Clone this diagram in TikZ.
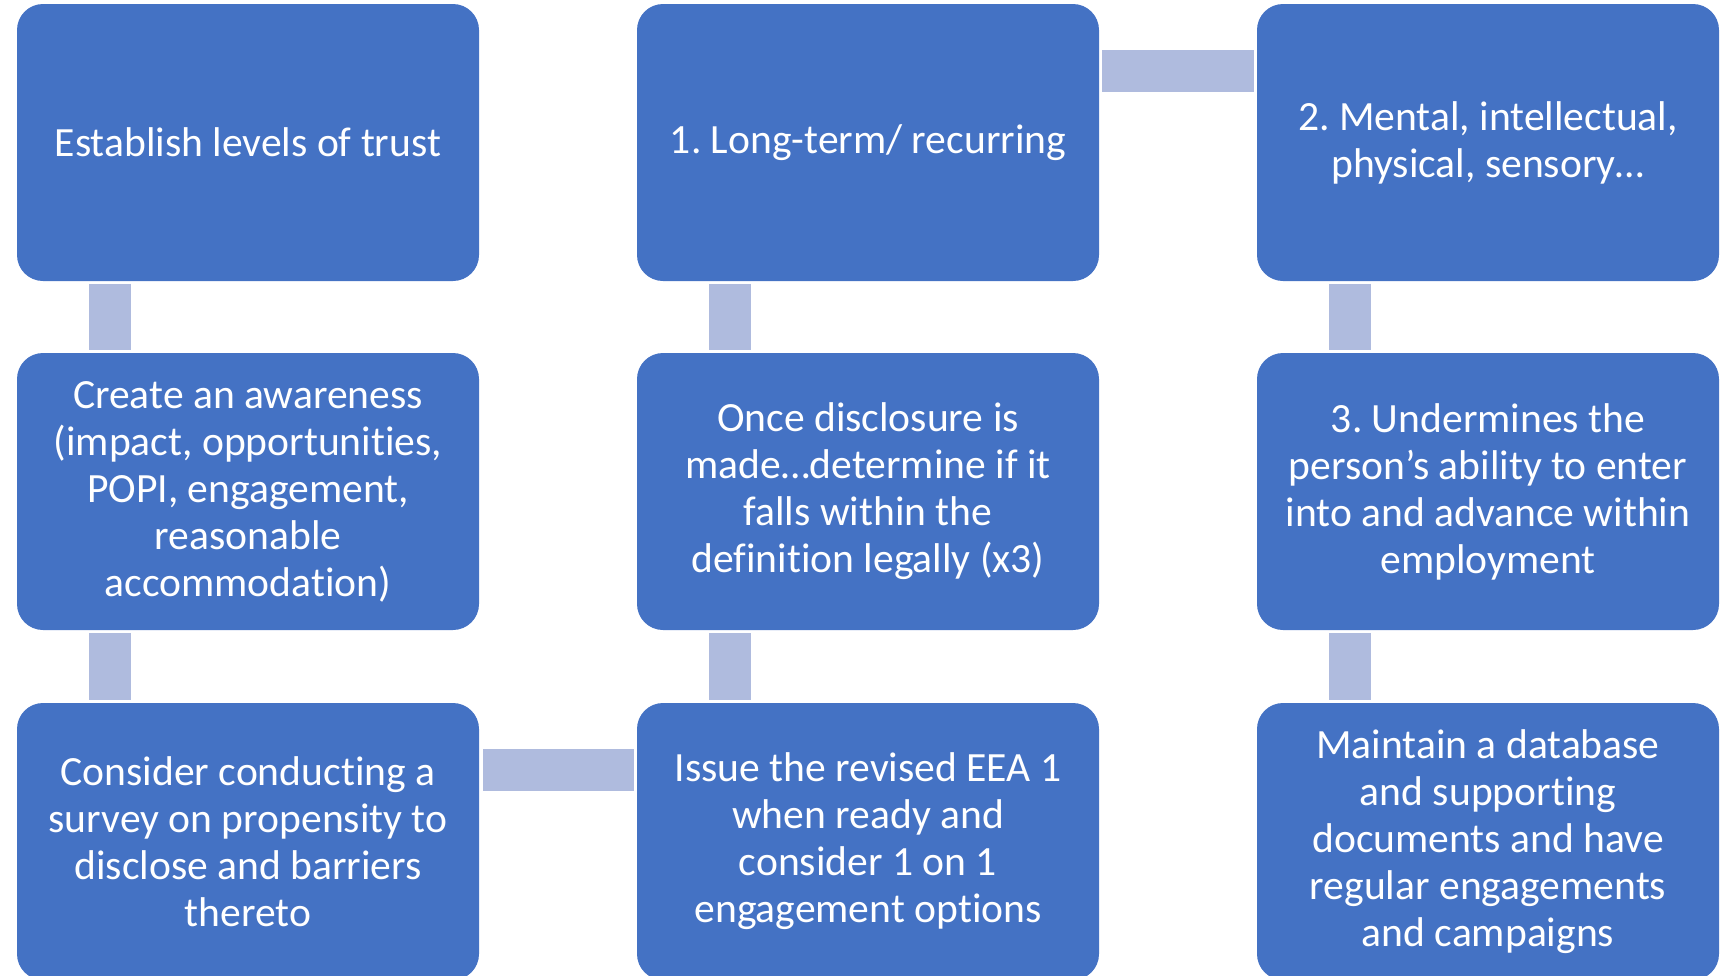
\documentclass[tikz,border=0pt]{standalone}
\usepackage{fontspec}
\setmainfont{Carlito}[Ligatures=NoCommon]
\usepackage{xcolor}
\usepackage{tikz}
\usetikzlibrary{calc}
\definecolor{stageblue}{RGB}{68,114,196}
\definecolor{linkblue}{RGB}{175,187,222}
\frenchspacing

\begin{document}
\begin{tikzpicture}[x=0.5pt, y=-0.5pt,
	stage/.style={fill=stageblue, rounded corners=13pt, minimum width=231pt, minimum height=138.5pt,
		inner sep=0pt, text=white, align=center, font=\fontsize{20.8pt}{23.5pt}\selectfont},
	link/.style={draw=linkblue, line width=21pt, shorten <=1.25pt, shorten >=1.25pt}]
	\useasboundingbox (0,0) rectangle (1729,975);
	\clip (0,0) rectangle (1729,975);
	
	% Top row
	\node[stage] (trust) at (248,142.5) {Establish levels of trust};
	\node[stage] (longterm) at (868,142.5) {1. Long-term/ recurring};
	\node[stage] (mental) at (1488,142.5) {2. Mental, intellectual,\\physical, sensory…};
	
	% Middle row
	\node[stage] (awareness) at (248,491.5) {Create an awareness\\(impact, opportunities,\\POPI, engagement,\\reasonable\\accommodation)};
	\node[stage] (disclosure) at (868,491.5) {Once disclosure is\\made…determine if it\\falls within the\\definition legally (x3)};
	\node[stage] (undermines) at (1488,491.5) {3. Undermines the\\person’s ability to enter\\into and advance within\\employment};
	
	% Bottom row (cut off by the page edge)
	\node[stage] (survey) at (248,841.5) {Consider conducting a\\survey on propensity to\\disclose and barriers\\thereto};
	\node[stage] (issue) at (868,841.5) {Issue the revised EEA 1\\when ready and\\consider 1 on 1\\engagement options};
	\node[stage] (database) at (1488,841.5) {Maintain a database\\and supporting\\documents and have\\regular engagements\\and campaigns};
	
	% Links: down the first column, across, up the second, across, down the third
	\draw[link] ([xshift=46.5pt]trust.south west) -- ([xshift=46.5pt]awareness.north west);
	\draw[link] ([xshift=46.5pt]awareness.south west) -- ([xshift=46.5pt]survey.north west);
	\draw[link, shorten <=2pt, shorten >=1.5pt] ([yshift=-33.5pt]survey.north east) -- ([yshift=-33.5pt]issue.north west);
	\draw[link] ([xshift=46.5pt]issue.north west) -- ([xshift=46.5pt]disclosure.south west);
	\draw[link] ([xshift=46.5pt]disclosure.north west) -- ([xshift=46.5pt]longterm.south west);
	\draw[link, shorten <=1.5pt, shorten >=1.5pt] ([yshift=-33.5pt]longterm.north east) -- ([yshift=-33.5pt]mental.north west);
	\draw[link] ([xshift=46.5pt]mental.south west) -- ([xshift=46.5pt]undermines.north west);
	\draw[link] ([xshift=46.5pt]undermines.south west) -- ([xshift=46.5pt]database.north west);
\end{tikzpicture}
\end{document}
